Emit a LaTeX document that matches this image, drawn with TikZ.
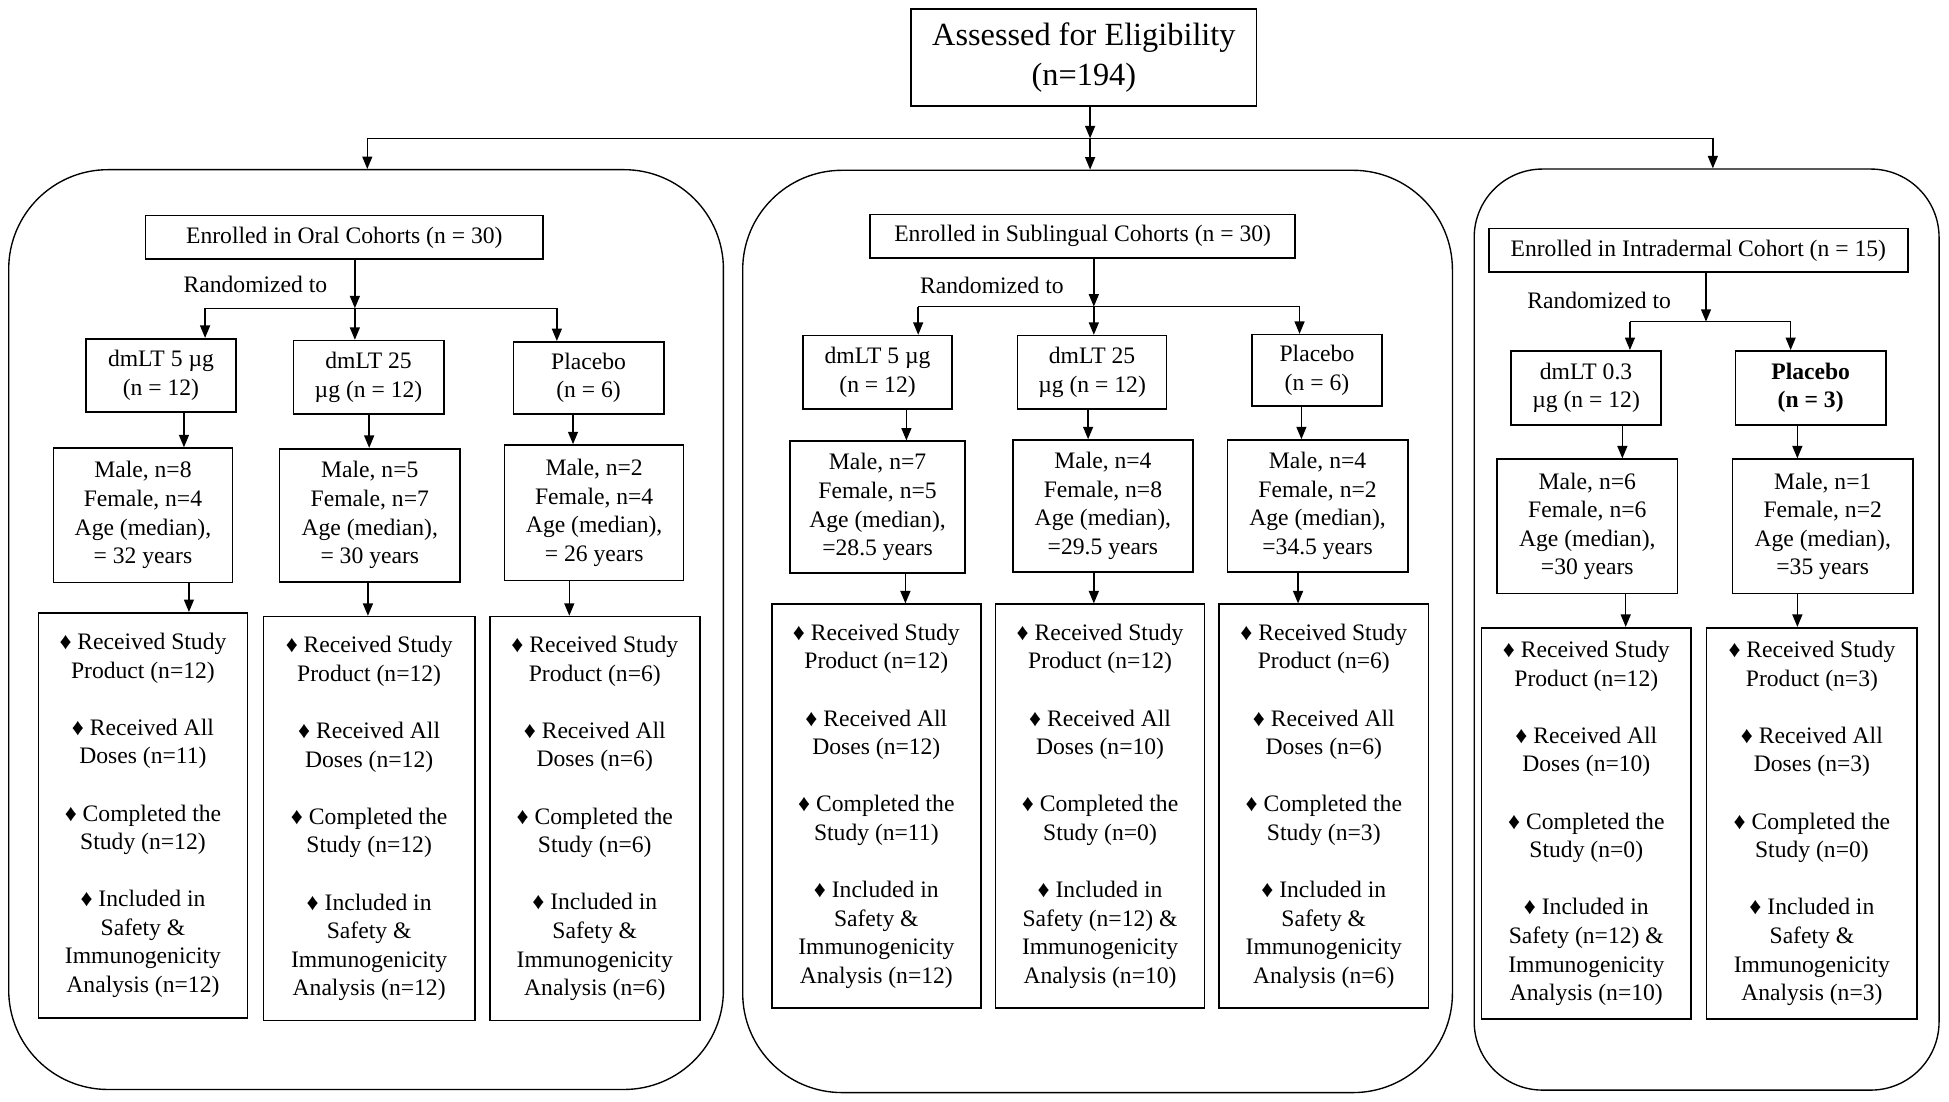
\documentclass[tikz,border=0pt]{standalone}
\usepackage{fontspec}
\setmainfont{Liberation Serif}
\usetikzlibrary{arrows.meta,calc}
\newcommand{\outc}[4]{♦ Received Study\\Product (#1)\\[23pt]♦ Received All\\Doses (#2)\\[23pt]♦ Completed the\\Study (#3)\\[23pt]♦ Included in\\#4}
\newcommand{\demog}[3]{Male, n=#1\\Female, n=#2\\Age (median),\\#3}
\tikzset{
  wh/.style 2 args={minimum width=#1,minimum height=#2},
  bx/.style={draw,line width=1.3pt,inner sep=0pt,align=center,font=\fontsize{19}{23}\selectfont},
  panel/.style={draw,line width=1.1pt,inner sep=0pt},
  arr/.style={line width=1.2pt,-{Triangle[length=10pt,width=8pt]}},
  ln/.style={line width=1.2pt},
  lbl/.style={inner sep=0pt,font=\fontsize{19}{23}\selectfont},
}
\begin{document}
\begin{tikzpicture}[x=1pt,y=-1pt]
\useasboundingbox[fill=white] (0,0) rectangle (1568,885.8);

% top box
\node[bx,wh={278pt}{78pt},font=\fontsize{26}{32}\selectfont] (top) at (872,46.4) {Assessed for Eligibility\\(n=194)};

% panels
\node[panel,rounded corners=80pt,wh={575pt}{740pt}] (P1) at (294.5,506.5) {};
\node[panel,rounded corners=80pt,wh={571pt}{742pt}] (P2) at (883,508) {};
\node[panel,rounded corners=55pt,wh={374pt}{741pt}] (P3) at (1373,506.5) {};

% top connectors
\coordinate (t0) at (877,111.3);
\coordinate (tL) at (295.5,111.3);
\coordinate (tR) at (1378,111.3);
\draw[arr] (top.south -| t0) -- (t0);
\draw[ln] (tL) -- (tR);
\draw[arr] (tL) -- (tL |- P1.north);
\draw[arr] (t0) -- (t0 |- P2.north);
\draw[arr] (tR) -- (tR |- P3.north);

% ---------------- Oral ----------------
\node[bx,wh={320pt}{35pt}] (E1) at (277,191) {Enrolled in Oral Cohorts (n = 30)};
\node[lbl] (R1) at (205.5,229) {Randomized to};
\node[bx,wh={121pt}{59pt}] (b11) at (129.5,302) {dmLT 5 µg\\(n = 12)};
\node[bx,wh={121pt}{59pt}] (b12) at (296.5,303.5) {dmLT 25\\µg (n = 12)};
\node[bx,wh={121pt}{58pt}] (b13) at (473.5,304) {Placebo\\(n = 6)};
\node[bx,wh={144pt}{108pt}] (m11) at (115,414.5) {\demog{8}{4}{= 32 years}};
\node[bx,wh={145pt}{107pt}] (m12) at (297.5,414.5) {\demog{5}{7}{= 30 years}};
\node[bx,wh={144pt}{109pt}] (m13) at (478,412.5) {\demog{2}{4}{= 26 years}};
\node[bx,wh={168pt}{326pt}] (r11) at (115,656) {\outc{n=12}{n=11}{n=12}{Safety \&\\Immunogenicity\\Analysis (n=12)}};
\node[bx,wh={170pt}{325pt}] (r12) at (297,658.6) {\outc{n=12}{n=12}{n=12}{Safety \&\\Immunogenicity\\Analysis (n=12)}};
\node[bx,wh={169pt}{325pt}] (r13) at (478.5,658.5) {\outc{n=6}{n=6}{n=6}{Safety \&\\Immunogenicity\\Analysis (n=6)}};

\coordinate (j1) at (285.5,248);
\coordinate (j1L) at (165,248);
\coordinate (j1R) at (448,248);
\draw[arr] (E1.south -| j1) -- (j1);
\draw[ln] (j1L) -- (j1R);
\draw[arr] (j1L) -- (j1L |- b11.north);
\draw[arr] (j1) -- (j1 |- b12.north);
\draw[arr] (j1R) -- (j1R |- b13.north);

% ---------------- Sublingual ----------------
\node[bx,wh={342pt}{35pt}] (E2) at (871,190) {Enrolled in Sublingual Cohorts (n = 30)};
\node[lbl] (R2) at (798,230) {Randomized to};
\node[bx,wh={120pt}{59pt}] (b21) at (706,299.5) {dmLT 5 µg\\(n = 12)};
\node[bx,wh={120pt}{59pt}] (b22) at (878.6,299.5) {dmLT 25\\µg (n = 12)};
\node[bx,wh={105pt}{57.5pt}] (b23) at (1059.5,298) {Placebo\\(n = 6)};
\node[bx,wh={141pt}{106pt}] (m21) at (706,408) {\demog{7}{5}{=28.5 years}};
\node[bx,wh={145pt}{106pt}] (m22) at (887.3,407) {\demog{4}{8}{=29.5 years}};
\node[bx,wh={145pt}{106pt}] (m23) at (1060,407) {\demog{4}{2}{=34.5 years}};
\node[bx,wh={168pt}{325pt}] (r21) at (705,648.6) {\outc{n=12}{n=12}{n=11}{Safety \&\\Immunogenicity\\Analysis (n=12)}};
\node[bx,wh={168pt}{325pt}] (r22) at (885,648.6) {\outc{n=12}{n=10}{n=0}{Safety (n=12) \&\\Immunogenicity\\Analysis (n=10)}};
\node[bx,wh={168.5pt}{325pt}] (r23) at (1065,648.6) {\outc{n=6}{n=6}{n=3}{Safety \&\\Immunogenicity\\Analysis (n=6)}};

\coordinate (j2) at (880,246.7);
\coordinate (j2L) at (738.7,246.7);
\coordinate (j2R) at (1045.5,246.7);
\draw[arr] (E2.south -| j2) -- (j2);
\draw[ln] (j2L) -- (j2R);
\draw[arr] (j2L) -- (j2L |- b21.north);
\draw[arr] (j2) -- (j2 |- b22.north);
\draw[arr] (j2R) -- (j2R |- b23.north);

% ---------------- Intradermal ----------------
\node[bx,wh={337pt}{35.3pt}] (E3) at (1366.3,201.4) {Enrolled in Intradermal Cohort (n = 15)};
\node[lbl] (R3) at (1286.5,241.4) {Randomized to};
\node[bx,wh={121pt}{59.5pt}] (b31) at (1276,312) {dmLT 0.3\\µg (n = 12)};
\node[bx,wh={121pt}{59.5pt}] (b32) at (1456.7,312) {\textbf{Placebo}\\\textbf{(n = 3)}};
\node[bx,wh={145pt}{108pt}] (m31) at (1277,423.4) {\demog{6}{6}{=30 years}};
\node[bx,wh={145pt}{108pt}] (m32) at (1466.4,423.4) {\demog{1}{2}{=35 years}};
\node[bx,wh={168.4pt}{315pt}] (r31) at (1276.2,662.5) {\outc{n=12}{n=10}{n=0}{Safety (n=12) \&\\Immunogenicity\\Analysis (n=10)}};
\node[bx,wh={169.5pt}{315pt}] (r32) at (1457.7,662.5) {\outc{n=3}{n=3}{n=0}{Safety \&\\Immunogenicity\\Analysis (n=3)}};

\coordinate (j3) at (1372.5,258.8);
\coordinate (j3L) at (1311.3,258.8);
\coordinate (j3R) at (1440.6,258.8);
\draw[arr] (E3.south -| j3) -- (j3);
\draw[ln] (j3L) -- (j3R);
\draw[arr] (j3L) -- (j3L |- b31.north);
\draw[arr] (j3R) -- (j3R |- b32.north);

% vertical connectors between rows
\foreach \a/\b/\x in {b11/m11/148, b12/m12/297, b13/m13/461,
                      m11/r11/152, m12/r12/296, m13/r13/458,
                      b21/m21/729.2, b22/m22/875.4, b23/m23/1047,
                      m21/r21/728.4, m22/r22/880, m23/r23/1044.3,
                      b31/m31/1305.2, b32/m32/1446,
                      m31/r31/1307.9, m32/r32/1446}{
  \coordinate (cx) at (\x,0);
  \draw[arr] (\a.south -| cx) -- (\b.north -| cx);
}
\end{tikzpicture}
\end{document}
